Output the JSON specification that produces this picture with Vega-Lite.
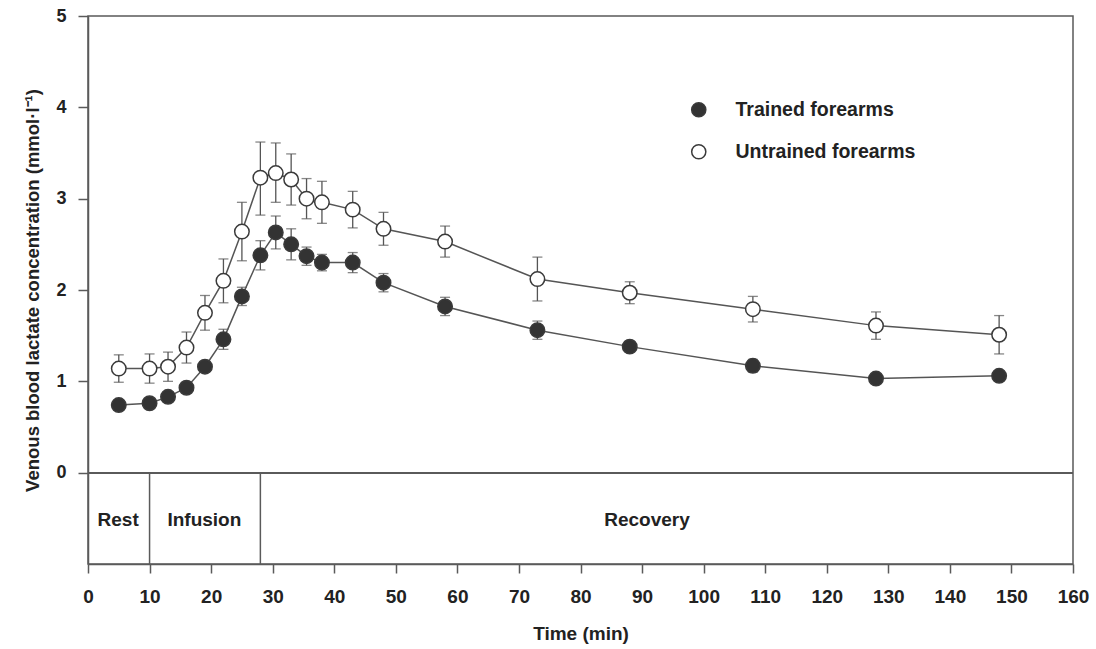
{
  "$schema": "https://vega.github.io/schema/vega-lite/v6.json",
  "width": 985,
  "height": 548,
  "autosize": "none",
  "padding": {"left": 88, "top": 16, "right": 23, "bottom": 85},
  "background": "white",
  "config": {
    "view": {"stroke": "#5a5a5a", "strokeWidth": 1.5},
    "axis": {
      "domainColor": "#5a5a5a", "domainWidth": 1.5,
      "tickColor": "#5a5a5a", "tickWidth": 1.5,
      "grid": false, "labelFlush": false, "labelOverlap": false, "labelBound": false,
      "labelFont": "Liberation Sans", "labelFontWeight": "bold", "labelColor": "#222",
      "titleFont": "Liberation Sans", "titleFontWeight": "bold", "titleColor": "#222"
    },
    "legend": {
      "labelFont": "Liberation Sans", "labelFontWeight": "bold", "labelColor": "#222", "labelLimit": 400
    }
  },
  "datasets": {
    "main": [
      {"t": 5, "series": "Trained forearms", "y": 0.74, "lo": 0.70, "hi": 0.78},
      {"t": 10, "series": "Trained forearms", "y": 0.76, "lo": 0.72, "hi": 0.80},
      {"t": 13, "series": "Trained forearms", "y": 0.83, "lo": 0.79, "hi": 0.87},
      {"t": 16, "series": "Trained forearms", "y": 0.93, "lo": 0.87, "hi": 0.99},
      {"t": 19, "series": "Trained forearms", "y": 1.16, "lo": 1.10, "hi": 1.22},
      {"t": 22, "series": "Trained forearms", "y": 1.46, "lo": 1.35, "hi": 1.57},
      {"t": 25, "series": "Trained forearms", "y": 1.93, "lo": 1.83, "hi": 2.03},
      {"t": 28, "series": "Trained forearms", "y": 2.38, "lo": 2.22, "hi": 2.54},
      {"t": 30.5, "series": "Trained forearms", "y": 2.63, "lo": 2.45, "hi": 2.81},
      {"t": 33, "series": "Trained forearms", "y": 2.50, "lo": 2.33, "hi": 2.67},
      {"t": 35.5, "series": "Trained forearms", "y": 2.37, "lo": 2.27, "hi": 2.47},
      {"t": 38, "series": "Trained forearms", "y": 2.30, "lo": 2.21, "hi": 2.39},
      {"t": 43, "series": "Trained forearms", "y": 2.30, "lo": 2.19, "hi": 2.41},
      {"t": 48, "series": "Trained forearms", "y": 2.08, "lo": 1.98, "hi": 2.18},
      {"t": 58, "series": "Trained forearms", "y": 1.82, "lo": 1.72, "hi": 1.92},
      {"t": 73, "series": "Trained forearms", "y": 1.56, "lo": 1.46, "hi": 1.66},
      {"t": 88, "series": "Trained forearms", "y": 1.38, "lo": 1.32, "hi": 1.44},
      {"t": 108, "series": "Trained forearms", "y": 1.17, "lo": 1.10, "hi": 1.24},
      {"t": 128, "series": "Trained forearms", "y": 1.03, "lo": 0.99, "hi": 1.07},
      {"t": 148, "series": "Trained forearms", "y": 1.06, "lo": 1.02, "hi": 1.10},
      {"t": 5, "series": "Untrained forearms", "y": 1.14, "lo": 0.99, "hi": 1.29},
      {"t": 10, "series": "Untrained forearms", "y": 1.14, "lo": 0.98, "hi": 1.30},
      {"t": 13, "series": "Untrained forearms", "y": 1.16, "lo": 1.00, "hi": 1.32},
      {"t": 16, "series": "Untrained forearms", "y": 1.37, "lo": 1.20, "hi": 1.54},
      {"t": 19, "series": "Untrained forearms", "y": 1.75, "lo": 1.56, "hi": 1.94},
      {"t": 22, "series": "Untrained forearms", "y": 2.10, "lo": 1.86, "hi": 2.34},
      {"t": 25, "series": "Untrained forearms", "y": 2.64, "lo": 2.32, "hi": 2.96},
      {"t": 28, "series": "Untrained forearms", "y": 3.23, "lo": 2.82, "hi": 3.62},
      {"t": 30.5, "series": "Untrained forearms", "y": 3.28, "lo": 2.96, "hi": 3.61},
      {"t": 33, "series": "Untrained forearms", "y": 3.21, "lo": 2.93, "hi": 3.49},
      {"t": 35.5, "series": "Untrained forearms", "y": 3.00, "lo": 2.78, "hi": 3.22},
      {"t": 38, "series": "Untrained forearms", "y": 2.96, "lo": 2.73, "hi": 3.19},
      {"t": 43, "series": "Untrained forearms", "y": 2.88, "lo": 2.68, "hi": 3.08},
      {"t": 48, "series": "Untrained forearms", "y": 2.67, "lo": 2.49, "hi": 2.85},
      {"t": 58, "series": "Untrained forearms", "y": 2.53, "lo": 2.36, "hi": 2.70},
      {"t": 73, "series": "Untrained forearms", "y": 2.12, "lo": 1.88, "hi": 2.36},
      {"t": 88, "series": "Untrained forearms", "y": 1.97, "lo": 1.85, "hi": 2.09},
      {"t": 108, "series": "Untrained forearms", "y": 1.79, "lo": 1.65, "hi": 1.93},
      {"t": 128, "series": "Untrained forearms", "y": 1.61, "lo": 1.46, "hi": 1.76},
      {"t": 148, "series": "Untrained forearms", "y": 1.51, "lo": 1.30, "hi": 1.72}
    ],
    "dividers": [{"x": 10}, {"x": 28}],
    "phases": [
      {"label": "Rest", "x": 4.9},
      {"label": "Infusion", "x": 18.9},
      {"label": "Recovery", "x": 90.8}
    ]
  },
  "data": {"name": "main"},
  "layer": [
    {
      "mark": {"type": "line", "color": "#555", "strokeWidth": 1.5},
      "encoding": {
        "x": {
          "field": "t", "type": "quantitative",
          "scale": {"domain": [0, 160], "nice": false, "zero": false},
          "axis": {
            "values": [0, 10, 20, 30, 40, 50, 60, 70, 80, 90, 100, 110, 120, 130, 140, 150, 160],
            "format": "d",
            "tickSize": 9, "labelPadding": 14, "labelFontSize": 19,
            "title": "Time (min)", "titleFontSize": 19, "titleY": 75, "titleBaseline": "alphabetic"
          }
        },
        "y": {
          "field": "y", "type": "quantitative",
          "scale": {"domain": [-1, 5], "nice": false, "zero": false},
          "axis": {
            "values": [0, 1, 2, 3, 4, 5],
            "format": "d",
            "tickSize": 10, "labelPadding": 12, "labelFontSize": 18,
            "title": "Venous blood lactate concentration (mmol·l⁻¹)",
            "titleFontSize": 18.5, "titleX": -50, "titleBaseline": "alphabetic"
          }
        },
        "detail": {"field": "series"}
      }
    },
    {
      "mark": {"type": "rule", "color": "#555", "strokeWidth": 1.3},
      "encoding": {
        "x": {"field": "t", "type": "quantitative"},
        "y": {"field": "lo", "type": "quantitative"},
        "y2": {"field": "hi"}
      }
    },
    {
      "mark": {"type": "tick", "orient": "horizontal", "color": "#555", "size": 10, "thickness": 1.3},
      "encoding": {
        "x": {"field": "t", "type": "quantitative"},
        "y": {"field": "lo", "type": "quantitative"}
      }
    },
    {
      "mark": {"type": "tick", "orient": "horizontal", "color": "#555", "size": 10, "thickness": 1.3},
      "encoding": {
        "x": {"field": "t", "type": "quantitative"},
        "y": {"field": "hi", "type": "quantitative"}
      }
    },
    {
      "mark": {"type": "point", "filled": true, "shape": "circle", "size": 210, "stroke": "#3a3a3a", "strokeWidth": 1.5, "opacity": 1},
      "encoding": {
        "x": {"field": "t", "type": "quantitative"},
        "y": {"field": "y", "type": "quantitative"},
        "fill": {
          "field": "series", "type": "nominal",
          "scale": {"domain": ["Trained forearms", "Untrained forearms"], "range": ["#333333", "#ffffff"]},
          "legend": {
            "title": null, "orient": "none", "legendX": 601, "legendY": 84,
            "symbolType": "circle", "symbolSize": 200, "symbolStrokeColor": "#3a3a3a", "symbolStrokeWidth": 1.5,
            "symbolOpacity": 1, "labelLimit": 400,
            "labelFontSize": 19.5, "labelOffset": 27, "rowPadding": 21, "padding": 0
          }
        }
      }
    },
    {
      "mark": {"type": "rule", "color": "#5a5a5a", "strokeWidth": 1.5},
      "encoding": {"y": {"datum": 0}}
    },
    {
      "data": {"name": "dividers"},
      "mark": {"type": "rule", "color": "#5a5a5a", "strokeWidth": 1.5},
      "encoding": {
        "x": {"field": "x", "type": "quantitative"},
        "y": {"datum": 0},
        "y2": {"datum": -1}
      }
    },
    {
      "data": {"name": "phases"},
      "mark": {"type": "text", "font": "Liberation Sans", "fontWeight": "bold", "fontSize": 19, "color": "#222", "baseline": "middle", "align": "center"},
      "encoding": {
        "x": {"field": "x", "type": "quantitative"},
        "y": {"datum": -0.52},
        "text": {"field": "label"}
      }
    }
  ]
}
